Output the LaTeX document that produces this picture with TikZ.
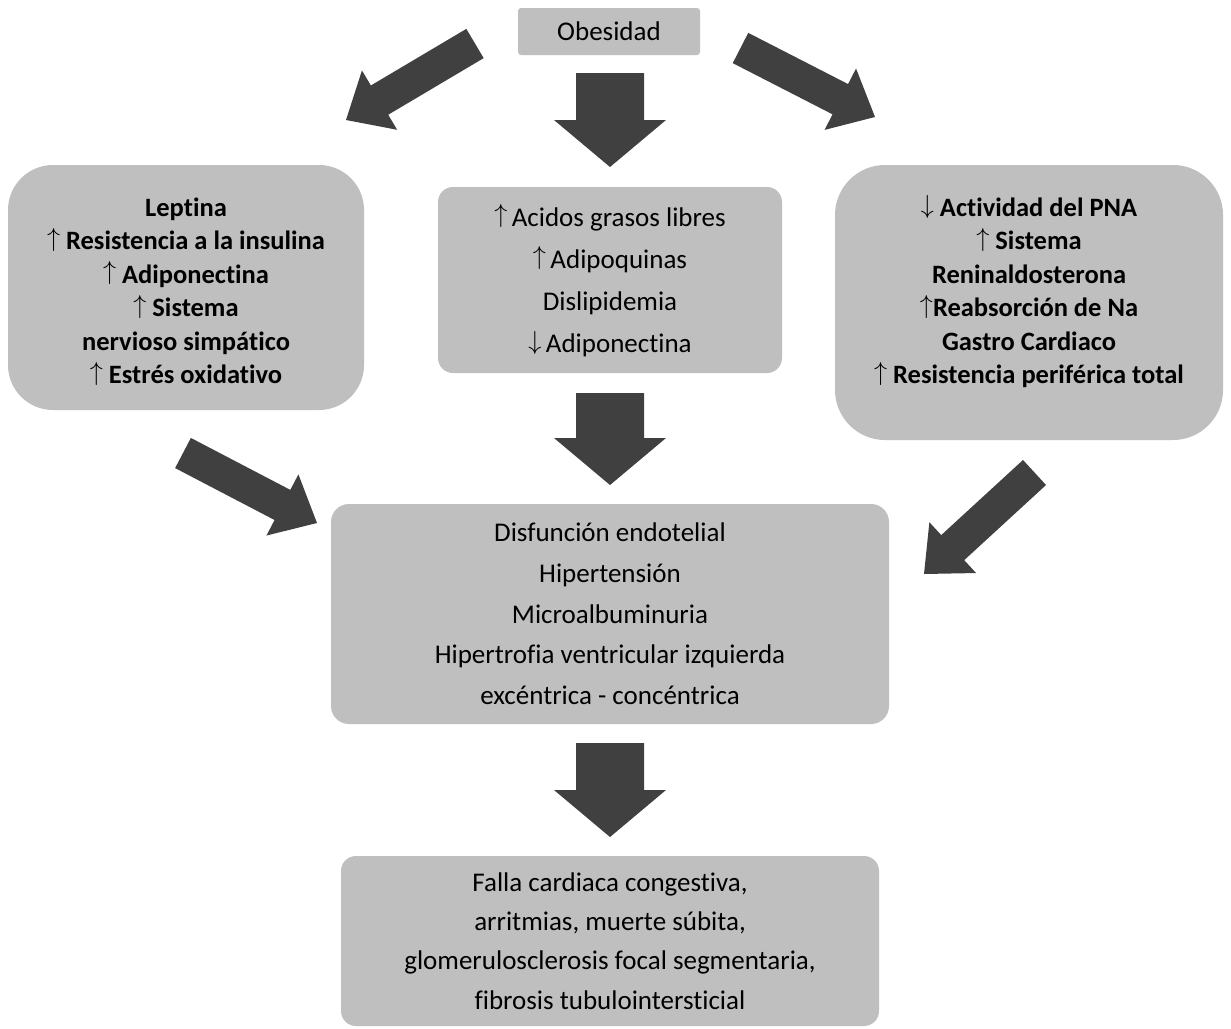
\documentclass[tikz,border=0pt]{standalone}
\usepackage{fontspec}
\setmainfont{Carlito}[Ligatures=CommonOff]
\usetikzlibrary{calc}
\definecolor{boxgray}{HTML}{BFBFBF}
\definecolor{arrowgray}{HTML}{404040}
\newcommand{\uarr}{\raisebox{3.5pt}[0.6em][0pt]{\scalebox{1.05}{$\uparrow$}}}
\newcommand{\darr}{\raisebox{3pt}[0.6em][0pt]{\scalebox{1.05}{$\downarrow$}}}
\tikzset{
  box/.style={fill=boxgray, draw=none, inner sep=0pt, outer sep=0pt, align=center, text=black},
  plaintext/.style={inner sep=0pt, outer sep=0pt, align=center, text=black},
  boldtxt/.style={font={\bfseries\fontsize{26.5}{33.5}\selectfont}},
  regtxt/.style={font={\fontsize{27}{#1}\selectfont}},
  arrowfill/.style={fill=arrowgray, draw=none},
}
% #1 tail, #2 tip, #3 half shaft width, #4 half head width, #5 head length
\newcommand{\blockarrow}[5]{%
  \coordinate (ba-h) at ($(#2)!#5!(#1)$);
  \fill[arrowfill] ($(#1)!#3!90:(#2)$) -- ($(ba-h)!#3!90:(#2)$) -- ($(ba-h)!#4!90:(#2)$)
    -- (#2) -- ($(ba-h)!#4!-90:(#2)$) -- ($(ba-h)!#3!-90:(#2)$) -- ($(#1)!#3!-90:(#2)$) -- cycle;
}
\begin{document}
\begin{tikzpicture}[x=1pt,y=-1pt]
\useasboundingbox (0,0) rectangle (1231,1028);
\fill[white] (0,0) rectangle (1231,1028);

% boxes
\node[box, regtxt=33, minimum width=182pt, minimum height=47pt, rounded corners=3pt] (obes) at (609,31.5) {Obesidad};

\node[box, minimum width=356pt, minimum height=245pt, rounded corners=45pt] (left) at (186,287.5) {};
\node[plaintext, boldtxt] (lefttext) at (186,291)
  {Leptina\\ \uarr\ Resistencia a la insulina\\ \uarr\ Adiponectina\\ \uarr\ Sistema\\ nervioso simpático\\ \uarr\ Estrés oxidativo};

\node[box, minimum width=344pt, minimum height=186pt, rounded corners=15pt] (mid) at (610,280) {};
\node[plaintext, regtxt=42] (midtext) at (610,282)
  {\uarr\,Acidos grasos libres\\ \uarr\,Adipoquinas\\ Dislipidemia\\ \darr\,Adiponectina};

\node[box, minimum width=388pt, minimum height=275pt, rounded corners=50pt] (right) at (1029,302.5) {};
\node[plaintext, boldtxt] (righttext) at (1029,293)
  {\darr\ Actividad del PNA\\ \uarr\ Sistema\\ Reninaldosterona\\ \uarr Reabsorción de Na\\ Gastro Cardiaco\\ \uarr\ Resistencia periférica total};

\node[box, regtxt=40.7, minimum width=558pt, minimum height=220pt, rounded corners=18pt] (center) at (610,614)
  {Disfunción endotelial\\ Hipertensión\\ Microalbuminuria\\ Hipertrofia ventricular izquierda\\ excéntrica - concéntrica};

\node[box, regtxt=39.3, minimum width=538pt, minimum height=170pt, rounded corners=15pt] (bottom) at (610,941)
  {Falla cardiaca congestiva,\\ arritmias, muerte súbita,\\ glomerulosclerosis focal segmentaria,\\ fibrosis tubulointersticial};

% arrow anchor coordinates
\coordinate (a1s) at (610,73);   \coordinate (a1e) at (610,167);
\coordinate (a2s) at (610,393);  \coordinate (a2e) at (610,485);
\coordinate (a3s) at (610,743);  \coordinate (a3e) at (610,837);
\coordinate (tls) at (475,43.5); \coordinate (tle) at (346,120);
\coordinate (trs) at (740.5,48); \coordinate (tre) at (875,117);
\coordinate (bls) at (183,453);  \coordinate (ble) at (317,523);
\coordinate (brs) at (1034.5,472.5); \coordinate (bre) at (924,574);

\blockarrow{a1s}{a1e}{34pt}{56pt}{47pt}
\blockarrow{a2s}{a2e}{34pt}{56pt}{47pt}
\blockarrow{a3s}{a3e}{34pt}{56pt}{47pt}
\blockarrow{tls}{tle}{17pt}{34.5pt}{39pt}
\blockarrow{trs}{tre}{17pt}{34.5pt}{39pt}
\blockarrow{bls}{ble}{17pt}{34.5pt}{39pt}
\blockarrow{brs}{bre}{17pt}{34.5pt}{39pt}
\end{tikzpicture}
\end{document}
